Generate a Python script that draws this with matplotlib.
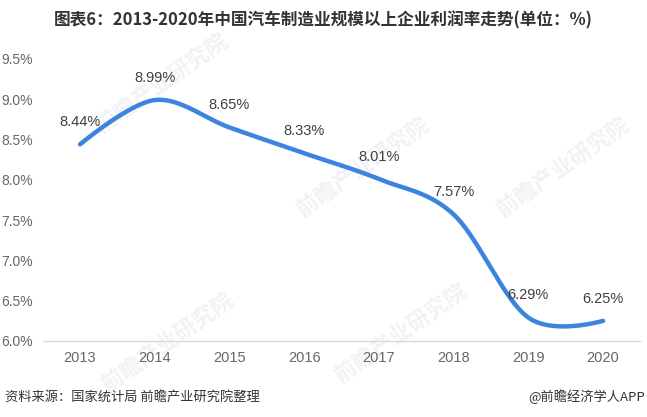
import numpy as np
import matplotlib.pyplot as plt

plt.rcParams['font.family'] = ['Liberation Sans', 'Noto Sans CJK SC', 'DejaVu Sans']

years = ['2013', '2014', '2015', '2016', '2017', '2018', '2019', '2020']
rate = [8.44, 8.99, 8.65, 8.33, 8.01, 7.57, 6.29, 6.25]
yticks = [6.0, 6.5, 7.0, 7.5, 8.0, 8.5, 9.0, 9.5]


def smooth_line(x, y, n=60):
    # Catmull-Rom style bezier through every point; end handles collapsed
    p = np.column_stack([np.asarray(x, float), np.asarray(y, float)])
    m = len(p)
    cp_in = p.copy()
    cp_out = p.copy()
    for i in range(1, m - 1):
        v = (p[i + 1] - p[i - 1]) / 6
        cp_in[i] = p[i] - v
        cp_out[i] = p[i] + v
    t = np.linspace(0, 1, n)[:, None]
    segs = []
    for i in range(m - 1):
        a, b, c, d = p[i], cp_out[i], cp_in[i + 1], p[i + 1]
        segs.append((1 - t)**3 * a + 3 * (1 - t)**2 * t * b + 3 * (1 - t) * t**2 * c + t**3 * d)
    pts = np.vstack(segs)
    return pts[:, 0], pts[:, 1]


fig = plt.figure(figsize=(6.47, 4.17), dpi=100)
ax = fig.add_axes([0.0659, 0.1823, 0.924, 0.6763])

xi = np.arange(len(years))
cx, cy = smooth_line(xi, rate)
ax.plot(cx, cy, color='#3d84df', lw=3.2, solid_capstyle='round', zorder=3)

for x, v in zip(xi, rate):
    ax.annotate(f'{v:.2f}%', (x, v), xytext=(0, 16), textcoords='offset points',
                ha='center', va='center', fontsize=10.5, color='#404040', zorder=4)

# faint watermarks behind the data
for wx, wy in [(0.25, 0.80), (0.56, 0.60), (0.87, 0.60), (0.26, 0.18), (0.62, 0.20)]:
    ax.text(wx, wy, '前瞻产业研究院', transform=fig.transFigure, rotation=35,
            fontsize=16, fontweight='bold', color='#f0f2f5', ha='center',
            va='center', zorder=0, clip_on=False,
            family=['Noto Sans CJK SC', 'DejaVu Sans'])

ax.set_xlim(-0.5, len(years) - 0.5)
ax.set_ylim(6.0, 9.5)
ax.set_xticks(xi)
ax.set_xticklabels(years)
ax.set_yticks(yticks)
ax.set_yticklabels([f'{t:.1f}%' for t in yticks])
ax.tick_params(axis='both', length=0, labelsize=10.5, labelcolor='#666666')
ax.tick_params(axis='y', labelsize=10, pad=7)
ax.tick_params(axis='x', pad=7)
for s in ['top', 'right', 'left']:
    ax.spines[s].set_visible(False)
ax.spines['bottom'].set_color('#d9d9d9')
ax.spines['bottom'].set_linewidth(1)

fig.text(0.5, 0.952, '图表6：2013-2020年中国汽车制造业规模以上企业利润率走势(单位：%)',
         ha='center', va='center', fontsize=12, fontweight='bold', color='#333333',
         family=['Noto Sans CJK SC', 'DejaVu Sans'])
fig.text(0.008, 0.048, '资料来源：国家统计局 前瞻产业研究院整理', ha='left', va='center',
         fontsize=9.5, color='#333333', family=['Noto Sans CJK SC', 'DejaVu Sans'])
fig.text(0.997, 0.048, '@前瞻经济学人APP', ha='right', va='center',
         fontsize=9.5, color='#333333', family=['Noto Sans CJK SC', 'DejaVu Sans'])

plt.savefig('out.png', dpi=100)
